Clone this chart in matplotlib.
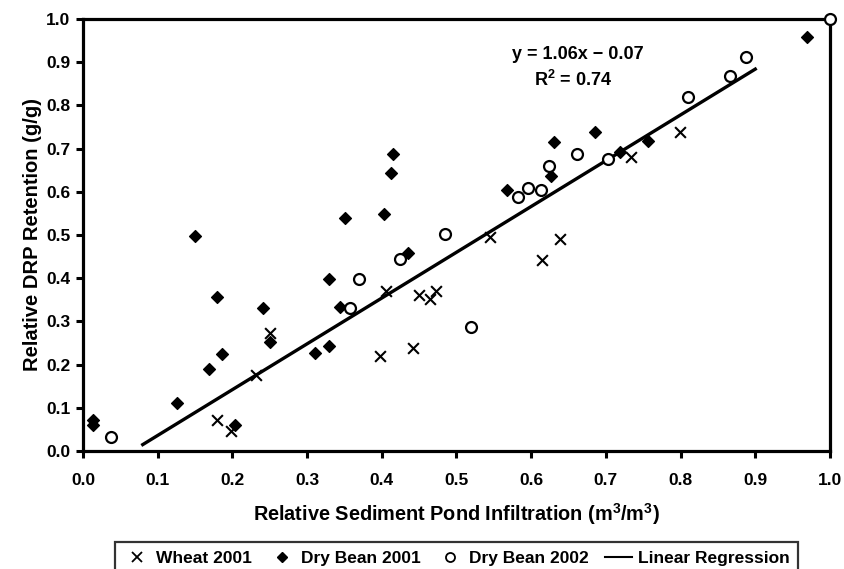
import numpy as np
import matplotlib
matplotlib.use("Agg")
import matplotlib.pyplot as plt
from matplotlib.lines import Line2D

plt.rcParams["font.family"] = ["Liberation Sans", "DejaVu Sans"]
plt.rcParams["font.weight"] = "bold"
plt.rcParams["mathtext.fontset"] = "custom"
plt.rcParams["mathtext.rm"] = "Liberation Sans:bold"
plt.rcParams["mathtext.bf"] = "Liberation Sans:bold"

# Wheat 2001 (x marks)
wheat_x = [0.180, 0.198, 0.232, 0.251, 0.397, 0.406, 0.442, 0.450, 0.465, 0.472,
           0.545, 0.614, 0.639, 0.734, 0.799]
wheat_y = [0.072, 0.046, 0.176, 0.274, 0.220, 0.371, 0.238, 0.360, 0.351, 0.370,
           0.496, 0.442, 0.490, 0.680, 0.739]

# Dry Bean 2001 (filled diamonds)
bean01_x = [0.014, 0.014, 0.126, 0.150, 0.169, 0.179, 0.186, 0.204, 0.241, 0.251,
            0.310, 0.330, 0.330, 0.344, 0.351, 0.403, 0.412, 0.415, 0.435, 0.568,
            0.626, 0.630, 0.685, 0.719, 0.756, 0.969]
bean01_y = [0.072, 0.060, 0.112, 0.498, 0.190, 0.357, 0.224, 0.060, 0.330, 0.253,
            0.226, 0.243, 0.397, 0.333, 0.539, 0.549, 0.643, 0.688, 0.458, 0.605,
            0.637, 0.716, 0.739, 0.693, 0.718, 0.959]

# Dry Bean 2002 (open circles)
bean02_x = [0.038, 0.358, 0.370, 0.425, 0.484, 0.519, 0.583, 0.596, 0.613, 0.624,
            0.662, 0.703, 0.810, 0.866, 0.888, 1.000]
bean02_y = [0.032, 0.331, 0.399, 0.444, 0.502, 0.288, 0.587, 0.608, 0.604, 0.660,
            0.687, 0.676, 0.820, 0.868, 0.913, 1.000]

# regression y = 1.06x - 0.07, drawn over the fitted range
slope, intercept = 1.06, -0.07
fit_range = [0.08, 0.90]

fig = plt.figure(figsize=(8.45, 5.69), dpi=100)
ax = fig.add_axes([0.0982, 0.2074, 0.884, 0.7592])

ax.scatter(wheat_x, wheat_y, marker="x", s=60, c="black", linewidths=1.5,
           clip_on=False, zorder=3)
ax.scatter(bean01_x, bean01_y, marker="D", s=36, c="black",
           clip_on=False, zorder=3)
ax.scatter(bean02_x, bean02_y, marker="o", s=62, facecolors="white",
           edgecolors="black", linewidths=1.6, clip_on=False, zorder=3)
fx = np.array(fit_range)
ax.plot(fx, slope * fx + intercept, color="black", lw=2.4, zorder=2)

ax.set_xlim(0, 1)
ax.set_ylim(0, 1)
ax.set_xticks(np.arange(0, 1.01, 0.1))
ax.set_yticks(np.arange(0, 1.01, 0.1))
ax.xaxis.set_major_formatter(matplotlib.ticker.FormatStrFormatter("%.1f"))
ax.yaxis.set_major_formatter(matplotlib.ticker.FormatStrFormatter("%.1f"))
for s in ax.spines.values():
    s.set_linewidth(2.3)
ax.tick_params(direction="out", length=5, width=2.2, labelsize=12.5, pad=11)
ax.tick_params(axis="y", pad=4)
for lab in ax.get_xticklabels() + ax.get_yticklabels():
    lab.set_fontweight("bold")

ax.set_xlabel("Relative Sediment Pond Infiltration (m$^\\mathbf{3}$/m$^\\mathbf{3}$)",
              fontsize=14.3, fontweight="bold", labelpad=9)
ax.set_ylabel("Relative DRP Retention (g/g)", fontsize=14.5, fontweight="bold",
              labelpad=3)

ax.text(0.663, 0.917, "y = 1.06x \u2212 0.07", ha="center", va="center",
        fontsize=13, fontweight="bold")
ax.text(0.656, 0.859, "R$^\\mathbf{2}$ = 0.74", ha="center", va="center",
        fontsize=13, fontweight="bold")

handles = [
    Line2D([], [], marker="x", ls="none", color="black", markersize=6.5, mew=1.3),
    Line2D([], [], marker="D", ls="none", color="black", markersize=5),
    Line2D([], [], marker="o", ls="none", mfc="white", mec="black",
           markersize=6.5, mew=1.3),
    Line2D([], [], color="black", lw=1.5),
]
labels = ["Wheat 2001", "Dry Bean 2001", "Dry Bean 2002", "Linear Regression"]
leg = fig.legend(handles, labels, loc="lower center", bbox_to_anchor=(0.54, -0.025),
                 ncol=4, frameon=True, fancybox=False, edgecolor="black",
                 fontsize=12.5, handlelength=1.6, handletextpad=0.3,
                 columnspacing=0.9, borderpad=0.5)
leg.get_frame().set_linewidth(1.6)
for t in leg.get_texts():
    t.set_fontweight("bold")

fig.savefig("out.png", dpi=100)
